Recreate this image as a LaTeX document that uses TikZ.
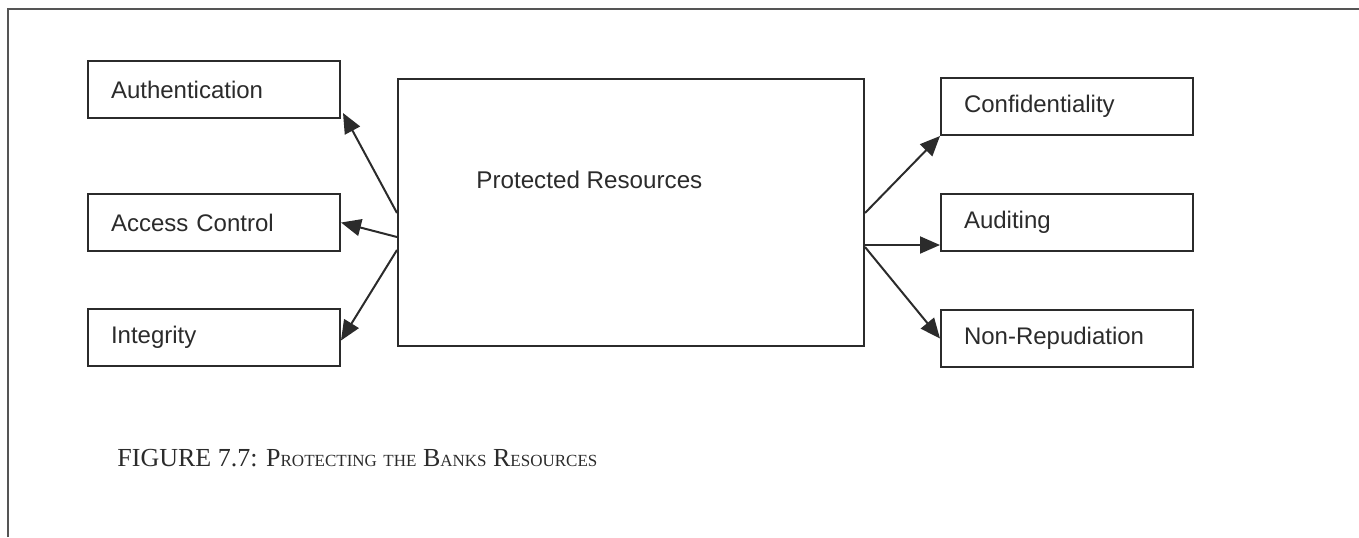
\documentclass[tikz,border=0pt]{standalone}
\usepackage{fontspec}
\setmainfont{Liberation Serif}
\setsansfont{Liberation Sans}
\usetikzlibrary{arrows.meta,calc}
\definecolor{ink}{HTML}{2B2B2B}
\definecolor{framegray}{HTML}{555555}
% fake small caps for the caption
\newcommand{\capsmall}[1]{{\fontsize{8.5}{10}\selectfont #1}}

\begin{document}
\begin{tikzpicture}[x=0.5pt,y=-0.5pt,
  box/.style={draw=ink, line width=1pt, rectangle, anchor=north west,
    inner xsep=11.5pt, inner ysep=0pt, text width=103pt, align=left,
    minimum height=28.5pt, font=\sffamily\fontsize{12}{14}\selectfont, text=ink},
  hub/.style={draw=ink, line width=1pt, rectangle, anchor=north west,
    minimum width=233pt, minimum height=133.5pt, inner sep=0pt},
  arr/.style={draw=ink, line width=1pt, -{Triangle[length=10pt,width=8.5pt]}}]

\useasboundingbox (0,0) rectangle (1359,537);

% outer frame (top and left edges only)
\draw[framegray, line width=0.8pt] (8,537) -- (8,9) -- (1359,9);

% central box
\node[hub] (res) at (397,78) {};
\node[anchor=base west, font=\sffamily\fontsize{12.1}{14}\selectfont, text=ink, inner sep=0pt]
  (reslabel) at (476,188) {Protected Resources};

% left column
\node[box] (auth)  at (87,60)  {Authentication};
\node[box] (acc)   at (87,193) {Access Control};
\node[box] (integ) at (87,308) {Integrity};

% right column
\node[box] (conf)  at (940,77)  {Confidentiality};
\node[box] (aud)   at (940,193) {Auditing};
\node[box] (nonrep) at (940,309) {Non-Repudiation};

% anchor points on the central box and arrow ends
\coordinate (audend) at ($(aud.south west)+(0,-7)$);

% connectors
\draw[arr] ($(res.north west)+(0,135)$) -- ($(auth.south east)+(2,-6)$);
\draw[arr] ($(res.north west)+(0,159)$) -- (acc.east);
\draw[arr] ($(res.north west)+(0,172)$) -- ($(integ.east)+(0,3)$);
\draw[arr] ($(res.north east)+(0,135)$) -- (conf.south west);
\draw[arr] (res.east |- audend) -- (audend);
\draw[arr] ($(res.north east)+(0,169)$) -- (nonrep.west);

% caption
\node[anchor=base west, font=\rmfamily\fontsize{13}{15}\selectfont, text=ink, inner sep=0pt]
  (cap) at (117,466) {FIGURE 7.7: P\capsmall{ROTECTING} \capsmall{THE} B\capsmall{ANKS} R\capsmall{ESOURCES}};
\end{tikzpicture}
\end{document}
